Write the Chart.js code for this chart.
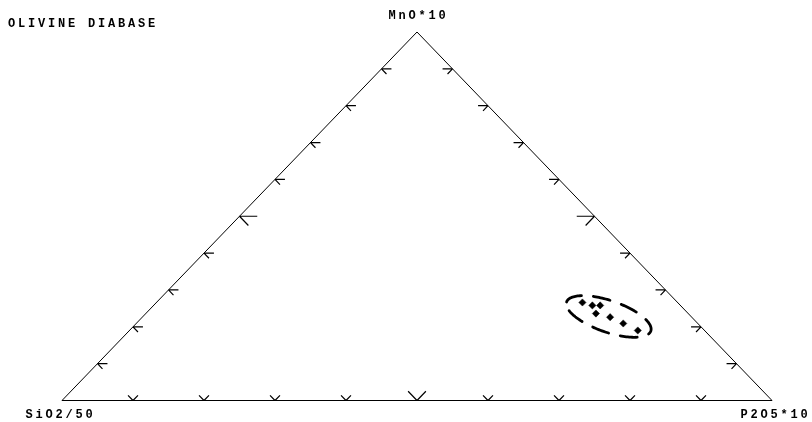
<!DOCTYPE html>
<html>
<head>
<meta charset="utf-8">
<script src="https://cdn.jsdelivr.net/npm/chart.js@4/dist/chart.umd.min.js"></script>
<style>
  html, body { margin: 0; padding: 0; background: #fff; }
  canvas { display: block; }
</style>
</head>
<body>
<canvas id="tern" width="812" height="422"></canvas>
<script>
// ---- Labels ----
const title = 'OLIVINE DIABASE';
const vertexLabels = ['SiO2/50', 'MnO*10', 'P2O5*10'];   // left, top, right corner

// ---- Samples, normalised percentages (SiO2/50 + MnO*10 + P2O5*10 = 100) ----
const sio2 = [13.4, 12.4, 11.3, 13.0, 11.5, 10.5, 9.4];
const mno  = [26.6, 25.8, 25.8, 23.6, 22.6, 20.9, 19.0];
const p2o5 = [60.0, 61.8, 62.9, 63.4, 65.9, 68.6, 71.6];

// ---- Tick positions along each side (fraction of the side) ----
const tickFractions = [0.1, 0.2, 0.3, 0.4, 0.5, 0.6, 0.7, 0.8, 0.9];

// ---- Field boundary drawn around the samples (composition %, [SiO2, MnO, P2O5]) ----
const fieldCentre = [11.6, 22.8, 65.6];
const fieldMajor  = [-3.96, -3.94, 7.90];
const fieldMinor  = [-2.75, 4.05, -1.30];

// ternary composition [a, b, c] -> plot coordinates (a: left, b: top, c: right)
function toXY(comp) {
  const s = comp[0] + comp[1] + comp[2];
  const b = comp[1] / s, c = comp[2] / s;
  return { x: c + b / 2, y: b };
}

// outline of the triangle
const outline = [[1, 0, 0], [0, 0, 1], [0, 1, 0], [1, 0, 0]].map(toXY);

// tick marks: at each tick point, two short strokes running along the
// lines of constant composition that leave that side
const TICK = 0.014, TICK_MID = 0.025;
const tickPts = [];
function tickAt(comp, zeroIdx, len) {
  for (let j = 0; j < 3; j++) {
    if (j === zeroIdx) continue;
    const end = comp.slice();
    end[j] -= len; end[zeroIdx] += len;
    tickPts.push(toXY(comp), toXY(end), { x: null, y: null });
  }
}
tickFractions.forEach(t => {
  const len = Math.abs(t - 0.5) < 1e-9 ? TICK_MID : TICK;
  tickAt([1 - t, 0, t], 1, len);   // bottom side (MnO = 0)
  tickAt([1 - t, t, 0], 2, len);   // left side (P2O5 = 0)
  tickAt([0, t, 1 - t], 0, len);   // right side (SiO2 = 0)
});

// samples
const samples = sio2.map((v, i) => toXY([v, mno[i], p2o5[i]]));

// field boundary
const field = [];
for (let k = 0; k <= 160; k++) {
  const th = Math.PI - (k / 160) * 2 * Math.PI;
  const cs = Math.cos(th), sn = Math.sin(th);
  field.push(toXY([0, 1, 2].map(i => fieldCentre[i] + fieldMajor[i] * cs + fieldMinor[i] * sn)));
}

const FONT = 'bold 12px "Liberation Mono", "DejaVu Sans Mono", monospace';
const SPACING = 2.8;

const labelPlugin = {
  id: 'ternaryLabels',
  afterDraw(chart) {
    const { ctx, scales: { x, y } } = chart;
    ctx.save();
    ctx.fillStyle = '#000';
    ctx.font = FONT;
    ctx.letterSpacing = SPACING + 'px';
    ctx.textBaseline = 'alphabetic';
    ctx.textAlign = 'left';
    ctx.fillText(title, 8, 27);

    ctx.textAlign = 'center';
    const left = toXY([1, 0, 0]), top = toXY([0, 1, 0]), right = toXY([0, 0, 1]);
    ctx.fillText(vertexLabels[0], x.getPixelForValue(left.x) - 3 + SPACING / 2, y.getPixelForValue(left.y) + 17);
    ctx.fillText(vertexLabels[1], x.getPixelForValue(top.x) + SPACING / 2, y.getPixelForValue(top.y) - 13);
    ctx.fillText(vertexLabels[2], x.getPixelForValue(right.x) + 2 + SPACING / 2, y.getPixelForValue(right.y) + 17);
    ctx.restore();
  }
};

new Chart(document.getElementById('tern'), {
  type: 'scatter',
  data: {
    datasets: [
      {
        label: 'outline', data: outline, showLine: true, clip: false,
        borderColor: '#000', borderWidth: 1, pointRadius: 0, tension: 0
      },
      {
        label: 'ticks', data: tickPts, showLine: true, spanGaps: false, clip: false,
        borderColor: '#000', borderWidth: 1.2, pointRadius: 0, tension: 0
      },
      {
        label: 'field', data: field, showLine: true, clip: false,
        borderColor: '#000', borderWidth: 2.8, borderDash: [17, 12], borderCapStyle: 'round',
        pointRadius: 0, tension: 0
      },
      {
        label: 'OLIVINE DIABASE', data: samples, showLine: false, clip: false,
        pointStyle: 'rectRot', pointRadius: 3.6, backgroundColor: '#000', borderColor: '#000', borderWidth: 0.5
      }
    ]
  },
  options: {
    responsive: false,
    animation: false,
    events: [],
    layout: { padding: { left: 62, right: 40, top: 32, bottom: 21.5 } },
    scales: {
      x: { type: 'linear', min: 0, max: 1, display: false },
      y: { type: 'linear', min: 0, max: 1, display: false }
    },
    plugins: { legend: { display: false }, tooltip: { enabled: false } }
  },
  plugins: [labelPlugin]
});
</script>
</body>
</html>
